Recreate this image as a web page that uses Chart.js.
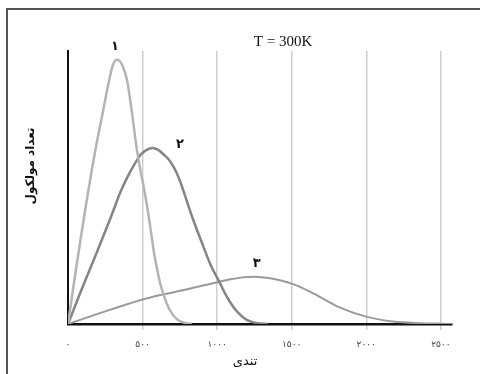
<!DOCTYPE html>
<html>
<head>
<meta charset="utf-8">
<script src="https://cdn.jsdelivr.net/npm/chart.js@4.4.1/dist/chart.umd.min.js"></script>
<style>
html,body{margin:0;padding:0;background:#fff;overflow:hidden;}
#wrap{position:relative;width:480px;height:374px;}
#frame{position:absolute;left:6px;top:8px;width:520px;height:420px;border:2px solid #555;box-sizing:border-box;}
canvas{position:absolute;left:0;top:0;}
</style>
</head>
<body>
<div id="wrap"><div id="frame"></div><canvas id="c" width="480" height="374"></canvas></div>
<script>
// Speeds (x) and relative molecule counts (y)
const speeds1 = [0, 40, 80, 120, 160, 186, 230, 275, 302, 330, 362, 397, 431, 460, 485, 509, 543, 576, 600, 621, 660, 695, 730, 762, 800, 830];
const counts1 = [0, 15, 29.5, 43.5, 56.5, 64.5, 76.6, 89, 95, 96.8, 95, 89, 76.6, 64.5, 56.5, 49.8, 38.8, 26.4, 19.5, 14.3, 7.8, 4, 1.8, 0.8, 0.2, 0];
const speeds2 = [0, 85, 195, 290, 353, 400, 430, 487, 525, 565, 605, 643, 670, 700, 729, 760, 800, 840, 900, 952, 1014, 1060, 1108, 1150, 1198, 1245, 1287, 1340];
const counts2 = [0, 11.8, 26.5, 39.5, 48.5, 54, 57, 62, 63.7, 64.5, 63.8, 62, 60.6, 58.3, 55.3, 51, 44.5, 38.1, 29.5, 22.2, 15.5, 10.5, 6.3, 3.6, 1.5, 0.6, 0.2, 0];
const speeds3 = [0, 215, 490, 620, 800, 1015, 1090, 1240, 1330, 1420, 1510, 1645, 1825, 2005, 2180, 2360, 2500, 2575];
const counts3 = [0, 4, 8.8, 10.6, 12.7, 15.5, 16.4, 17.3, 16.9, 16.0, 14.6, 11.2, 6.0, 2.6, 0.9, 0.3, 0.1, 0];
const tickValues = [0, 500, 1000, 1500, 2000, 2500];
const curveNames = ['۱', '۲', '۳'];
const curveNameSpeed = [315, 751, 1265];
const curveNameCount = [101.6, 65.6, 22.2];
const xTitle = 'تندی';
const yTitle = 'تعداد مولکول';
const chartTitle = 'T = 300K';

const toFa = n => String(n).replace(/\d/g, d => '۰۱۲۳۴۵۶۷۸۹'[d]);
const pts = (xs, ys) => xs.map((x, i) => ({x: x, y: ys[i]}));

const textPlugin = {
  id: 'texts',
  afterDraw(chart) {
    const ctx = chart.ctx;
    const xs = chart.scales.x, ys = chart.scales.y;
    ctx.save();
    ctx.fillStyle = '#111';
    ctx.textAlign = 'center';
    ctx.textBaseline = 'middle';
    ctx.font = 'bold 13px "DejaVu Sans"';
    curveNames.forEach((t, i) => {
      ctx.fillText(t, xs.getPixelForValue(curveNameSpeed[i]), ys.getPixelForValue(curveNameCount[i]));
    });
    ctx.font = '15px "Liberation Serif"';
    ctx.fillText(chartTitle, 283, 42);
    ctx.font = '13px "DejaVu Sans"';
    ctx.fillText(xTitle, 245, 362);
    ctx.translate(31, 166);
    ctx.rotate(-Math.PI / 2);
    ctx.font = 'bold 12px "DejaVu Sans"';
    ctx.fillText(yTitle, 0, 0);
    ctx.restore();
  }
};

new Chart(document.getElementById('c'), {
  type: 'line',
  data: {
    datasets: [
      {data: pts(speeds1, counts1), borderColor: '#b4b4b4', borderWidth: 2.5},
      {data: pts(speeds2, counts2), borderColor: '#858585', borderWidth: 2.5},
      {data: pts(speeds3, counts3), borderColor: '#9a9a9a', borderWidth: 2}
    ]
  },
  options: {
    responsive: false,
    animation: false,
    devicePixelRatio: 1,
    layout: {padding: {left: 68, right: 28, top: 51, bottom: 0}},
    elements: {point: {radius: 0}, line: {cubicInterpolationMode: 'monotone', fill: false}},
    plugins: {legend: {display: false}, tooltip: {enabled: false}},
    scales: {
      x: {
        type: 'linear', min: 0, max: 2575,
        afterFit(s) { s.height = 50; },
        afterBuildTicks(s) { s.ticks = tickValues.map(v => ({value: v})); },
        ticks: {
          includeBounds: false, autoSkip: false, maxRotation: 0,
          padding: 9, color: '#444', font: {family: 'DejaVu Sans', size: 9},
          callback: v => toFa(v)
        },
        grid: {
          color: ctx => (ctx.tick && ctx.tick.value === 0) ? 'rgba(0,0,0,0)' : '#cfcfcf',
          lineWidth: 1.5, tickLength: 6, drawOnChartArea: true
        },
        border: {display: true, color: '#111', width: 2.5}
      },
      y: {
        min: 0, max: 100,
        afterFit(s) { s.width = 0; },
        ticks: {display: false},
        grid: {display: false},
        border: {display: true, color: '#111', width: 2}
      }
    }
  },
  plugins: [textPlugin]
});
</script>
</body>
</html>
